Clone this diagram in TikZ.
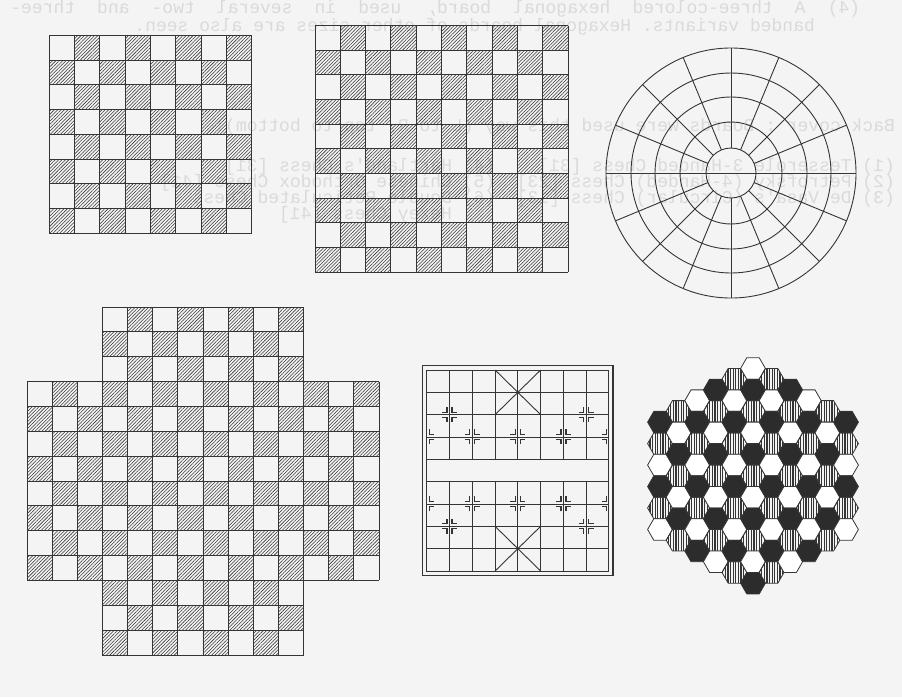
\documentclass[tikz,border=0pt]{standalone}
\usepackage{fontspec}
\setmonofont{Liberation Mono}
\usepackage{graphicx}
\usetikzlibrary{patterns.meta}
\definecolor{bg}{HTML}{F4F4F4}
\definecolor{ink}{HTML}{353535}
\definecolor{ghost}{HTML}{DADADA}
\definecolor{darkhex}{HTML}{2C2C2C}
\newcommand\xqR[2]{%
  \pgfmathsetmacro\px{426.7+22.79*#1}\pgfmathsetmacro\py{370+22.33*#2}%
  \draw[mk] ({\px+2.5},{\py-7.5}) -- ({\px+2.5},{\py-2.5}) -- ({\px+7.5},{\py-2.5});
  \draw[mk] ({\px+2.5},{\py+7.5}) -- ({\px+2.5},{\py+2.5}) -- ({\px+7.5},{\py+2.5});}
\newcommand\xqL[2]{%
  \pgfmathsetmacro\px{426.7+22.79*#1}\pgfmathsetmacro\py{370+22.33*#2}%
  \draw[mk] ({\px-2.5},{\py-7.5}) -- ({\px-2.5},{\py-2.5}) -- ({\px-7.5},{\py-2.5});
  \draw[mk] ({\px-2.5},{\py+7.5}) -- ({\px-2.5},{\py+2.5}) -- ({\px-7.5},{\py+2.5});}
\newcommand\spreadline[2]{\hbox to #1{\spaceskip=10.8pt plus 1fil\relax #2}}
\begin{document}
\begin{tikzpicture}[x=1pt,y=-1pt]
\tikzset{
 gl/.style={draw=ink,line width=0.9pt},
 hsq/.style={pattern={Lines[angle=45,distance=2.4pt,line width=0.55pt]},pattern color=ink},
 mk/.style={draw=ink,line width=1.3pt},
 hexline/.style={draw=ink,line width=0.8pt,line join=miter},
 hexW/.style={hexline,fill=white},
 hexS/.style={hexline,pattern={Lines[angle=90,distance=2.6pt,line width=1.15pt]},pattern color=ink},
 hexD/.style={hexline,fill=darkhex},
 ghosttext/.style={text=ghost,font=\ttfamily\fontsize{18}{18}\selectfont,inner sep=0pt}
}
\fill[bg] (0,0) rectangle (902,697);
\useasboundingbox (0,0) rectangle (902,697);

% ---- ghost (show-through, mirrored) text ----
\node[ghosttext,anchor=west] (tA) at (10,9) {\reflectbox{\spreadline{850pt}{(4) A three-colored hexagonal board, used in several two- and three-}}};
\node[ghosttext,anchor=east] (tB) at (815,27) {\reflectbox{banded variants. Hexagonal boards of other sizes are also seen.}};
\node[ghosttext,anchor=east] (tC) at (895,127) {\reflectbox{Back cover : Boards were used this way (L to R, top to bottom):}};
\node[ghosttext,anchor=east] (tD) at (895,167) {\reflectbox{(1) Tesserole 3-Handed Chess [31]~~~~(4) Hartland's Chess [31]}};
\node[ghosttext,anchor=east] (tE) at (895,183) {\reflectbox{(2) Petrofsky (4-Handed) Chess [23]~~(5) Chinese Orthodox Chess [41]}};
\node[ghosttext,anchor=east] (tF) at (895,199) {\reflectbox{(3) De Vasa's (Circular) Chess [13]~~(6) Double Reticulated Chess}};
\node[ghosttext,anchor=east] (tG) at (895,215) {\reflectbox{~~~~~~~~~~~~~~~~~~~~~~~~~~~~~~~~~~~~~~~~~Hexey Chess [41]}};

% ---- board 1: 8x8 ----
\foreach \r in {0,...,7}{\foreach \c in {0,...,7}{
  \pgfmathtruncatemacro\p{mod(\r+\c,2)}
  \ifnum\p=1 \fill[hsq] ({49+25.35*\c},{35.5+24.7*\r}) rectangle ++(25.35,24.7); \fi}}
\foreach \i in {0,...,8}{
  \draw[gl] ({49+25.35*\i},35.5) -- ++(0,197.6);
  \draw[gl] (49,{35.5+24.7*\i}) -- ++(202.8,0);}

% ---- board 2: 10x10 ----
\foreach \r in {0,...,9}{\foreach \c in {0,...,9}{
  \pgfmathtruncatemacro\p{mod(\r+\c,2)}
  \ifnum\p=1 \fill[hsq] ({315+25.3*\c},{25.5+24.65*\r}) rectangle ++(25.3,24.65); \fi}}
\foreach \i in {0,...,10}{
  \draw[gl] ({315+25.3*\i},25.5) -- ++(0,246.5);
  \draw[gl] (315,{25.5+24.65*\i}) -- ++(253,0);}

% ---- circular board ----
\foreach \rr in {25,51,76,100,125} \draw[gl] (731,173) circle[radius=\rr pt];
\foreach \a in {0,22.5,...,337.5} \draw[gl] ([shift={(731,173)}]\a:25) -- ([shift={(731,173)}]\a:125);
\draw[gl] (706,173) -- (756,173);

% ---- cross board: 14x14 minus corners ----
\foreach \r in {0,...,13}{\foreach \c in {0,...,13}{
  \pgfmathtruncatemacro\p{mod(\r+\c,2)}
  \pgfmathtruncatemacro\inr{(\r>2)&&(\r<11)}
  \pgfmathtruncatemacro\inc{(\c>2)&&(\c<11)}
  \pgfmathtruncatemacro\ok{(\inr||\inc)&&(\p==0)}
  \ifnum\ok=1 \fill[hsq] ({27+25.14*\c},{307+24.86*\r}) rectangle ++(25.14,24.86); \fi}}
\foreach \i in {0,1,2,12,13,14}{
  \draw[gl] ({27+25.14*\i},{307+24.86*3}) -- ++(0,{24.86*8});
  \draw[gl] ({27+25.14*3},{307+24.86*\i}) -- ++({25.14*8},0);}
\foreach \i in {3,...,11}{
  \draw[gl] ({27+25.14*\i},307) -- ++(0,{24.86*14});
  \draw[gl] (27,{307+24.86*\i}) -- ++({25.14*14},0);}

% ---- xiangqi board ----
\draw[draw=ink,line width=1.5pt] (422.7,365.5) rectangle (613,575.5);
\draw[gl] (426.7,370) rectangle (608.9,571);
\foreach \j in {1,...,8} \draw[gl] (426.7,{370+22.33*\j}) -- (608.9,{370+22.33*\j});
\foreach \i in {1,...,7}{
  \draw[gl] ({426.7+22.79*\i},370) -- ({426.7+22.79*\i},{370+22.33*4});
  \draw[gl] ({426.7+22.79*\i},{370+22.33*5}) -- ({426.7+22.79*\i},571);}
\draw[gl] ({426.7+22.79*3},370) -- ({426.7+22.79*5},{370+22.33*2});
\draw[gl] ({426.7+22.79*5},370) -- ({426.7+22.79*3},{370+22.33*2});
\draw[gl] ({426.7+22.79*3},{370+22.33*7}) -- ({426.7+22.79*5},571);
\draw[gl] ({426.7+22.79*5},{370+22.33*7}) -- ({426.7+22.79*3},571);
\fill[ink] ({426.7+22.79*4},{370+22.33*1}) circle[radius=1.6pt];
\fill[ink] ({426.7+22.79*4},{370+22.33*8}) circle[radius=1.6pt];
\foreach \j in {2,7}{\xqL{1}{\j}\xqR{1}{\j}\xqL{7}{\j}\xqR{7}{\j}}
\foreach \j in {3,6}{\xqR{0}{\j}\xqL{2}{\j}\xqR{2}{\j}\xqL{4}{\j}\xqR{4}{\j}\xqL{6}{\j}\xqR{6}{\j}\xqL{8}{\j}}

% ---- hexagonal board (91 cells, three colours) ----
\foreach \q in {-5,...,5}{\foreach \r in {-5,...,5}{
  \pgfmathtruncatemacro\ss{abs(\q+\r)}
  \ifnum\ss<6
    \pgfmathtruncatemacro\cc{mod(\r-\q+30,3)}
    \pgfmathsetmacro\hx{753+18.6*\q}
    \pgfmathsetmacro\hy{475.8+21.477*(\r+0.5*\q)}
    \ifcase\cc
      \path[hexS,shift={(\hx,\hy)}] (12.4,0) -- (6.2,10.74) -- (-6.2,10.74) -- (-12.4,0) -- (-6.2,-10.74) -- (6.2,-10.74) -- cycle;
    \or
      \path[hexW,shift={(\hx,\hy)}] (12.4,0) -- (6.2,10.74) -- (-6.2,10.74) -- (-12.4,0) -- (-6.2,-10.74) -- (6.2,-10.74) -- cycle;
    \or
      \path[hexD,shift={(\hx,\hy)}] (12.4,0) -- (6.2,10.74) -- (-6.2,10.74) -- (-12.4,0) -- (-6.2,-10.74) -- (6.2,-10.74) -- cycle;
    \fi
  \fi}}
\end{tikzpicture}
\end{document}
